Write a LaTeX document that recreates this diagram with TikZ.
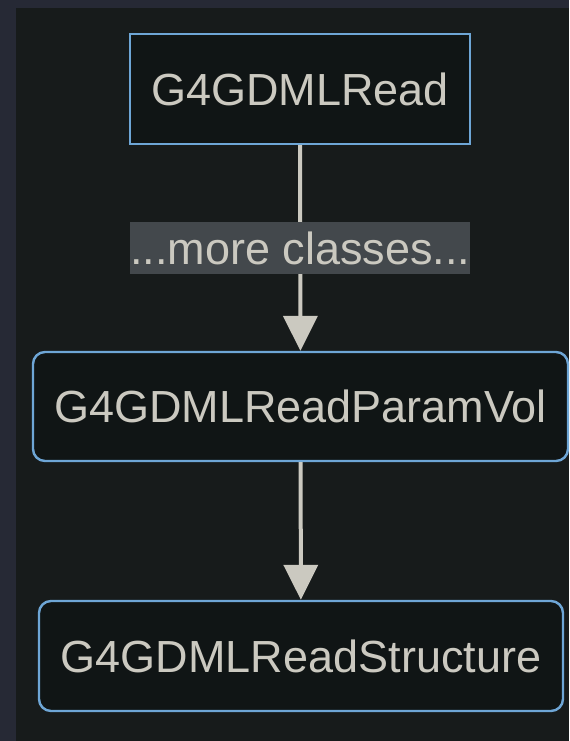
\documentclass[tikz,border=0pt]{standalone}
\usepackage{fontspec}
\setmainfont{Liberation Sans}
\usepackage{xcolor}
\definecolor{frameblue}{HTML}{262935}
\definecolor{panelgray}{HTML}{171B1B}
\definecolor{boxfill}{HTML}{101515}
\definecolor{edgeblue}{HTML}{6EA6D6}
\definecolor{inkgray}{HTML}{CBC9C0}
\definecolor{tagfill}{HTML}{43484C}
\usepackage{tikz}
\usetikzlibrary{
  arrows.meta,
  positioning
}

\begin{document}
\begin{tikzpicture}[
  x=1pt, y=-1pt,
  cls/.style={rectangle, draw=edgeblue, line width=2.4pt, fill=boxfill, text=inkgray, minimum height=110pt, inner sep=0pt, font=\fontsize{45}{50}\selectfont},
  arr/.style={-{Triangle[length=35pt, width=34pt]}, line width=4pt, inkgray},
  tag/.style={fill=tagfill, text=inkgray, minimum width=339pt, minimum height=52pt, inner sep=0pt, font=\fontsize{45}{50}\selectfont}
]
  \fill[frameblue] (0,0) rectangle (569,741);
  \fill[panelgray] (16,8) rectangle (569,741);

  \node[cls, minimum width=340pt] (read) at (300,89) {G4GDMLRead};
  \node[cls, minimum width=535pt, minimum height=109pt, rounded corners=12pt] (paramvol) at (300.5,406.5) {G4GDMLReadParamVol};
  \node[cls, minimum width=524pt, rounded corners=12pt] (structure) at (301,656) {G4GDMLReadStructure};

  \draw[arr] (read) -- node[tag] {...more classes...} (paramvol);
  \draw[arr] (paramvol) -- (structure);
\end{tikzpicture}
\end{document}
